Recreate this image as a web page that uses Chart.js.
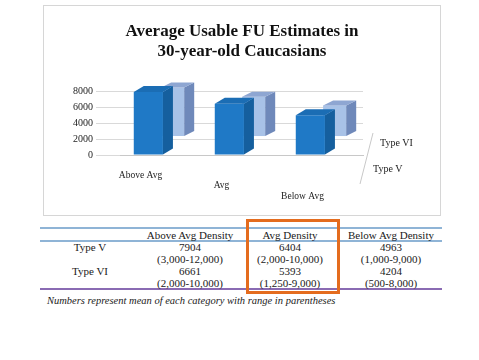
<!DOCTYPE html>
<html>
<head>
<meta charset="utf-8">
<script src="https://cdn.jsdelivr.net/npm/chart.js@4/dist/chart.umd.min.js"></script>
<style>
  body { margin: 0; background: #fff; width: 479px; height: 360px; position: relative; overflow: hidden; font-family: "Liberation Serif", serif; color: #1a1a1a; }
  .box { position: absolute; left: 43px; top: 5px; width: 398px; height: 211px; border: 1px solid #d6d6d6; box-sizing: border-box; }
  .box canvas { position: absolute; left: 0; top: 0; }
  .cell { position: absolute; font-size: 11px; line-height: 12px; white-space: nowrap; transform: translate(-50%, -50%); }
  .rule { position: absolute; left: 40px; width: 402px; }
  .note { position: absolute; left: 47px; top: 295px; font-size: 10.5px; font-style: italic; white-space: nowrap; }
  .focus { position: absolute; left: 246px; top: 219px; width: 94px; height: 75px; border: 3px solid #e46c1e; box-sizing: border-box; }
</style>
</head>
<body>
<div class="box"><canvas id="chart" width="396" height="209"></canvas></div>
<div class="rule" style="top:227px;height:2px;background:#8fb4d6"></div>
<div class="rule" style="top:240px;height:2px;background:#8fb4d6"></div>
<div class="rule" style="top:288px;height:2px;background:#8a6bb3"></div>
<div id="table"></div>
<div class="focus"></div>
<div class="note">Numbers represent mean of each category with range in parentheses</div>
<script>
    var categories = ["Above Avg", "Avg", "Below Avg"];
    var seriesNames = ["Type V", "Type VI"];
    var typeV = [7904, 6404, 4963];
    var typeVI = [6661, 5393, 4204];
    var yTicks = [0, 2000, 4000, 6000, 8000];

    var colHeaders = ["Above Avg Density", "Avg Density", "Below Avg Density"];
    var typeVRange = ["(3,000-12,000)", "(2,000-10,000)", "(1,000-9,000)"];
    var typeVIRange = ["(2,000-10,000)", "(1,250-9,000)", "(500-8,000)"];

    // table below the chart
    var colX = [190, 290, 391];
    var table = document.getElementById("table");
    function cell(text, x, y) {
        var d = document.createElement("div");
        d.className = "cell";
        d.style.left = x + "px";
        d.style.top = y + "px";
        d.textContent = text;
        table.appendChild(d);
    }
    colHeaders.forEach(function(h, i) { cell(h, colX[i], 235); });
    cell(seriesNames[0], 90, 247);
    cell(seriesNames[1], 90, 271);
    typeV.forEach(function(v, i) {
        cell(String(v), colX[i], 247);
        cell(typeVRange[i], colX[i], 259);
    });
    typeVI.forEach(function(v, i) {
        cell(String(v), colX[i], 271);
        cell(typeVIRange[i], colX[i], 283);
    });

    // 3d faces on top of the flat bars
    var faces = [
        { side: "#155f9e", top: "#1b6db4", dx: 10, dy: 6 },
        { side: "#6f89ba", top: "#8ea6d2", dx: 10, dy: 5 }
    ];
    var boxes = {
        id: "boxes",
        afterDatasetDraw: function(chart, args) {
            var f = faces[args.index];
            var c = chart.ctx;
            c.save();
            args.meta.data.forEach(function(bar) {
                var p = bar.getProps(["x", "y", "base", "width"], true);
                var l = p.x - p.width / 2, r = p.x + p.width / 2;
                c.fillStyle = f.side;
                c.beginPath();
                c.moveTo(r, p.y);
                c.lineTo(r + f.dx, p.y - f.dy);
                c.lineTo(r + f.dx, p.base - f.dy);
                c.lineTo(r, p.base);
                c.closePath();
                c.fill();
                c.fillStyle = f.top;
                c.beginPath();
                c.moveTo(l, p.y);
                c.lineTo(l + f.dx, p.y - f.dy);
                c.lineTo(r + f.dx, p.y - f.dy);
                c.lineTo(r, p.y);
                c.closePath();
                c.fill();
            });
            c.restore();
        },
        afterDraw: function(chart) {
            var c = chart.ctx;
            var a = chart.chartArea;
            c.save();
            c.strokeStyle = "#c8c8c8";
            c.lineWidth = 1;
            c.beginPath();
            c.moveTo(a.right + 10, a.bottom - 22);
            c.lineTo(a.right - 3, a.bottom + 29);
            c.stroke();
            c.fillStyle = "#222";
            c.font = "10px 'Liberation Serif', serif";
            c.textBaseline = "middle";
            c.fillText(seriesNames[1], a.right + 17, a.bottom - 12);
            c.fillText(seriesNames[0], a.right + 10, a.bottom + 14);
            c.restore();
        }
    };

    var ctx = document.getElementById("chart").getContext("2d");
    var chart = new Chart(ctx, {
        type: "bar",
        data: {
            labels: [[categories[0]], ["", categories[1]], ["", "", categories[2]]],
            datasets: [
                {
                    label: seriesNames[0],
                    data: typeV,
                    yAxisID: "y",
                    backgroundColor: "#1f79c6",
                    barPercentage: 1.2,
                    categoryPercentage: 0.6,
                    order: 0
                },
                {
                    label: seriesNames[1],
                    data: typeVI,
                    yAxisID: "y2",
                    backgroundColor: "#a8c2e7",
                    barPercentage: 0.95,
                    categoryPercentage: 0.6,
                    clip: false,
                    order: 1
                }
            ]
        },
        options: {
            responsive: false,
            animation: false,
            layout: { padding: 0 },
            plugins: {
                legend: { display: false },
                tooltip: { enabled: false },
                title: {
                    display: true,
                    text: ["Average Usable FU Estimates in", "30-year-old Caucasians"],
                    color: "#111",
                    font: { family: "'Liberation Serif', serif", size: 17, weight: "bold", lineHeight: 1.18 },
                    padding: { top: 16, bottom: 29 }
                }
            },
            scales: {
                x: {
                    grid: { display: false, drawTicks: false },
                    border: { display: true, color: "#c8c8c8" },
                    ticks: {
                        color: "#222",
                        padding: 15,
                        labelOffset: -20,
                        maxRotation: 0,
                        font: { family: "'Liberation Serif', serif", size: 9.5, lineHeight: 1.1 }
                    },
                    afterFit: function(s) { s.height = 60; }
                },
                y: {
                    min: 0,
                    max: 8000,
                    afterBuildTicks: function(s) { s.ticks = yTicks.map(function(v) { return { value: v }; }); },
                    grid: { color: "#d9d9d9", drawTicks: true, tickLength: 24 },
                    border: { display: false },
                    ticks: {
                        color: "#222",
                        padding: 3,
                        font: { family: "'Liberation Serif', serif", size: 10 },
                        callback: function(v) { return String(v); }
                    },
                    afterFit: function(s) { s.width = 76; }
                },
                y2: {
                    position: "right",
                    min: -2600,
                    max: 6160,
                    grid: { display: false },
                    border: { display: false },
                    ticks: { display: false },
                    afterFit: function(s) { s.width = 77; }
                }
            }
        },
        plugins: [boxes]
    });
</script>
</body>
</html>
